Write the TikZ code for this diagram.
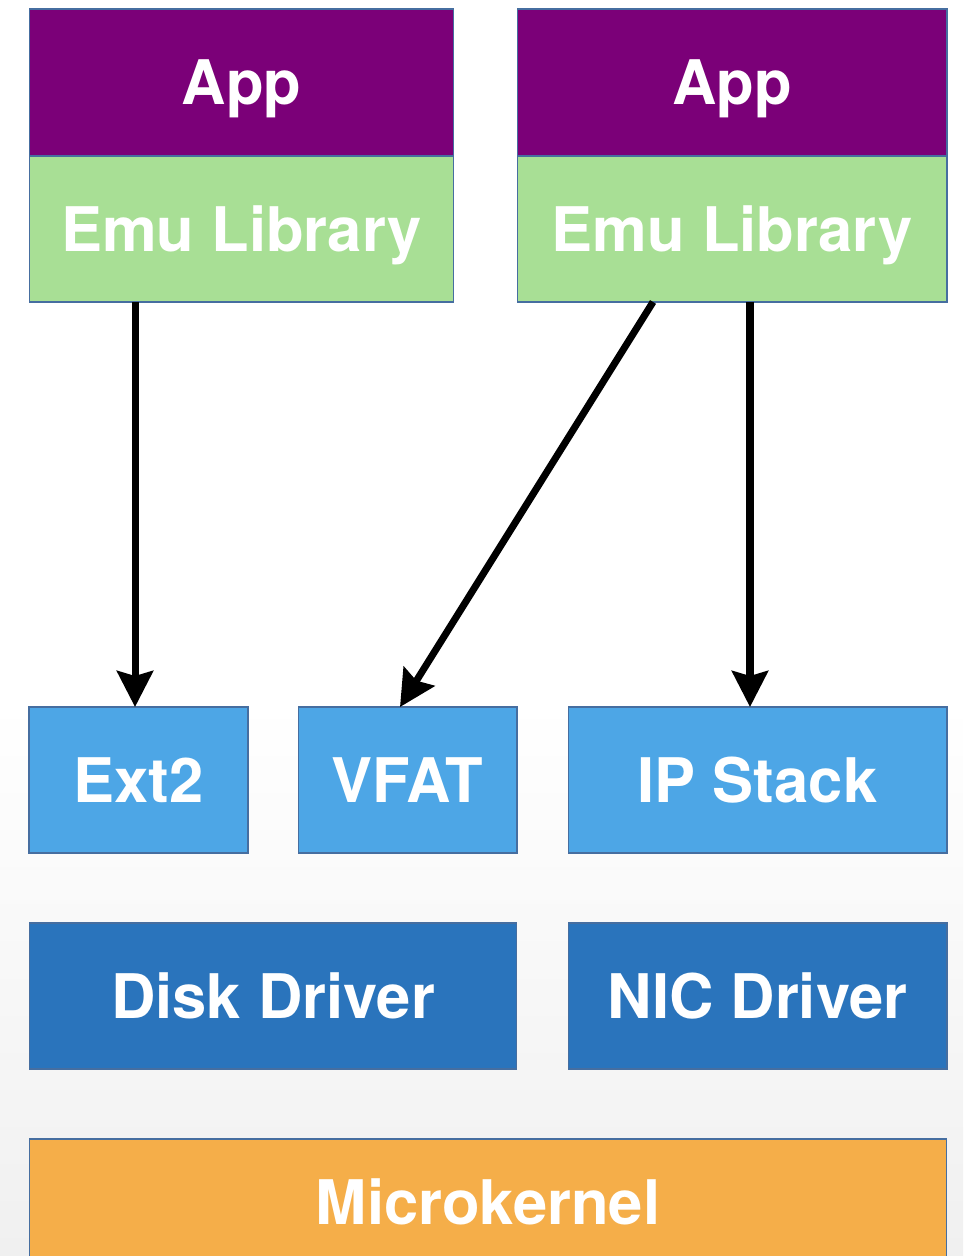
\documentclass[tikz,border=0pt]{standalone}
\usepackage{fontspec}
\setmainfont{TeX Gyre Heros}
\usetikzlibrary{arrows.meta}

\definecolor{apppurple}{RGB}{123,0,120}
\definecolor{emugreen}{RGB}{168,223,149}
\definecolor{fsblue}{RGB}{77,166,230}
\definecolor{drvblue}{RGB}{42,116,188}
\definecolor{kernorange}{RGB}{245,174,73}
\definecolor{edgeblue}{RGB}{70,110,160}
\definecolor{bggray}{RGB}{240,240,240}

\tikzset{
  box/.style={draw=edgeblue, line width=0.6pt, inner sep=0pt, outer sep=0pt,
    text=white, font=\fontsize{35}{42}\selectfont\bfseries, text depth=0pt,
    minimum height=2.92cm},
  arr/.style={line width=4pt, -{Stealth[length=0.72cm,width=0.72cm,inset=0.1cm]}}
}

\begin{document}
\begin{tikzpicture}[x=0.02cm,y=-0.02cm]

\useasboundingbox (0,0) rectangle (963,1256);
\fill[white] (0,0) rectangle (963,1256);
\shade[top color=white, bottom color=bggray] (0,700) rectangle (963,1256);

\node[box, fill=apppurple, minimum width=8.5cm, minimum height=2.94cm] (appL) at (241.5,82.5) {App};
\node[box, fill=emugreen, minimum width=8.5cm] (emuL) at (241.5,229) {Emu Library};
\node[box, fill=apppurple, minimum width=8.6cm, minimum height=2.94cm] (appR) at (732,82.5) {App};
\node[box, fill=emugreen, minimum width=8.6cm] (emuR) at (732,229) {Emu Library};

\node[box, fill=fsblue, minimum width=4.38cm] (ext2) at (138.5,780) {Ext2};
\node[box, fill=fsblue, minimum width=4.38cm] (vfat) at (407.5,780) {VFAT};
\node[box, fill=fsblue, minimum width=7.58cm] (ipstack) at (757.5,780) {IP Stack};

\node[box, fill=drvblue, minimum width=9.76cm] (disk) at (273,996) {Disk Driver};
\node[box, fill=drvblue, minimum width=7.58cm] (nic) at (757.5,996) {NIC Driver};

\node[box, fill=kernorange, minimum width=18.36cm, minimum height=2.52cm] (kernel) at (488,1202) {Microkernel};

\draw[arr] ([xshift=-2.13cm]emuL.south) -- ([xshift=-2.13cm]emuL.south |- ext2.north);
\draw[arr] ([xshift=-1.58cm]emuR.south) -- ([xshift=-0.15cm]vfat.north);
\draw[arr] ([xshift=0.36cm]emuR.south) -- ([xshift=0.36cm]emuR.south |- ipstack.north);
\end{tikzpicture}
\end{document}
